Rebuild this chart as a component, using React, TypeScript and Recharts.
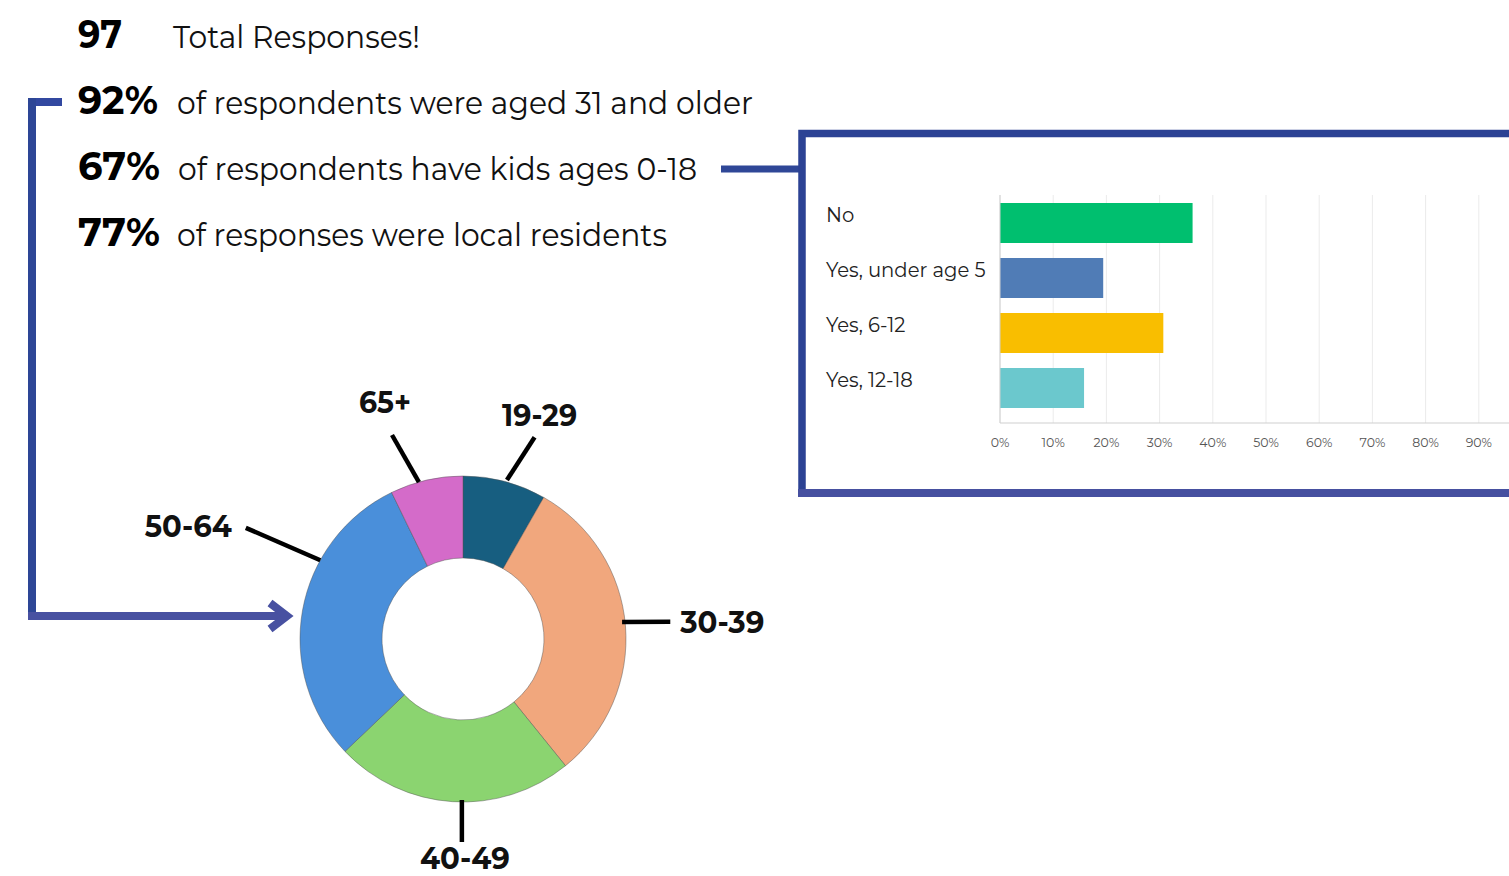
import React from 'react';
import { PieChart, Pie, Cell, BarChart, Bar, XAxis, YAxis, CartesianGrid } from 'recharts';

// age of respondents (counts out of 97)
const ageGroups = ['19-29', '30-39', '40-49', '50-64', '65+'];
const ageCounts = [8, 30, 23, 29, 7];
const ageColors = ['#175e80', '#f1a77d', '#8bd470', '#4a8fda', '#d46bc9'];

// "do you have kids" question, percent of responses
const kidAnswers = ['No', 'Yes, under age 5', 'Yes, 6-12', 'Yes, 12-18'];
const kidShares = [36.2, 19.4, 30.7, 15.8];
const kidColors = ['#00bf6f', '#507cb6', '#f9be00', '#6bc8cd'];
// 100% sits past the right edge of the picture, so only 0-90 get labels
const pctTicks = [0, 10, 20, 30, 40, 50, 60, 70, 80, 90];

const statValues = ['97', '92%', '67%', '77%'];
const statTexts = [
  'Total Responses!',
  'of respondents were aged 31 and older',
  'of respondents have kids ages 0-18',
  'of responses were local residents',
];

const FONT = "Montserrat, 'Open Sans', sans-serif";

const ageData = ageGroups.map((name, i) => ({ name, value: ageCounts[i] }));
const kidData = kidAnswers.map((answer, i) => ({ answer, share: kidShares[i] }));

// layout of the stat rows
const statRows = [
  { y: 48, valueW: 44, textX: 173, textW: 247 },
  { y: 114, valueW: 80, textX: 177, textW: 576 },
  { y: 180, valueW: 82, textX: 178, textW: 519 },
  { y: 246, valueW: 82, textX: 177, textW: 490 },
];

// leader line / label placement per slice (angles in clock degrees relative to the slice middle)
const labelCfg = [
  { d0: 0.6, d1: 4.7, r0: 165, r1: 214, dx: 5, dy: -11, anchor: 'middle', w: 75 },
  { d0: -1.5, d1: -0.1, r0: 160, r1: 208, dx: 10, dy: 11, anchor: 'start', w: 84 },
  { d0: -3.3, d1: -3.4, r0: 161, r1: 203, dx: 3, dy: 27, anchor: 'middle', w: 90 },
  { d0: 18.7, d1: 16.9, r0: 163, r1: 244, dx: -14, dy: 9, anchor: 'end', w: 87 },
  { d0: -2.7, d1: -6.2, r0: 163, r1: 216, dx: -7, dy: -22, anchor: 'middle', w: 52 },
];

function polar(cx: number, cy: number, r: number, clockDeg: number) {
  const a = (clockDeg * Math.PI) / 180;
  return { x: cx + r * Math.sin(a), y: cy - r * Math.cos(a) };
}

function renderAgeLabel(props: any) {
  const { cx, cy, midAngle, index } = props;
  const c = labelCfg[index];
  const clock = 90 - midAngle;
  const p0 = polar(cx, cy, c.r0, clock + c.d0);
  const p1 = polar(cx, cy, c.r1, clock + c.d1);
  return (
    <g key={'lbl' + index}>
      <line x1={p0.x} y1={p0.y} x2={p1.x} y2={p1.y} stroke="#000" strokeWidth={4.5} />
      <text
        x={p1.x + c.dx}
        y={p1.y + c.dy}
        textAnchor={c.anchor as any}
        fontFamily={FONT}
        fontWeight={700}
        fontSize={30}
        fill="#111"
        textLength={c.w}
        lengthAdjust="spacingAndGlyphs"
      >
        {ageGroups[index]}
      </text>
    </g>
  );
}

function KidTick(props: any) {
  const { y, payload } = props;
  return (
    <text x={20} y={y - 8} dominantBaseline="central" fontFamily={FONT} fontSize={19.6} fill="#222">
      {payload.value}
    </text>
  );
}

export default function App() {
  return (
    <div style={{ position: 'relative', width: 1509, height: 876, overflow: 'hidden', background: '#fff' }}>
      <style>{'body{margin:0}'}</style>
      <svg width={1509} height={876} style={{ position: 'absolute', left: 0, top: 0 }}>
        {statRows.map((r, i) => (
          <g key={i}>
            <text
              x={78}
              y={r.y}
              fontFamily={FONT}
              fontWeight={700}
              fontSize={40}
              fill="#000"
              textLength={r.valueW}
              lengthAdjust="spacingAndGlyphs"
            >
              {statValues[i]}
            </text>
            <text
              x={r.textX}
              y={r.y}
              fontFamily={FONT}
              fontSize={31}
              fill="#111"
              textLength={r.textW}
              lengthAdjust="spacingAndGlyphs"
            >
              {statTexts[i]}
            </text>
          </g>
        ))}
        {/* bracket from the age stat to the donut */}
        <line x1={28} y1={102} x2={62} y2={102} stroke="#3248a0" strokeWidth={8} />
        <line x1={32} y1={98} x2={32} y2={620} stroke="#2d4696" strokeWidth={8} />
        <line x1={28} y1={616} x2={284} y2={616} stroke="#4851a1" strokeWidth={8} />
        <polyline points="270,603 287,616 270,629" fill="none" stroke="#4851a1" strokeWidth={8} />
        {/* connector and box around the kids chart */}
        <line x1={721} y1={169} x2={800} y2={169} stroke="#2f4797" strokeWidth={7} />
        <path d="M1520 133.5 H802 V493" fill="none" stroke="#2c4294" strokeWidth={7.5} />
        <line x1={798} y1={493} x2={1520} y2={493} stroke="#4650a0" strokeWidth={8} />
      </svg>

      <div style={{ position: 'absolute', left: 0, top: 0 }}>
        <PieChart width={800} height={876} margin={{ top: 0, right: 0, bottom: 0, left: 0 }}>
          <Pie
            data={ageData}
            dataKey="value"
            nameKey="name"
            cx={463}
            cy={639}
            innerRadius={81}
            outerRadius={163}
            startAngle={90}
            endAngle={-270}
            stroke="rgba(80,80,80,0.45)"
            strokeWidth={1}
            label={renderAgeLabel}
            labelLine={false}
            isAnimationActive={false}
          >
            {ageData.map((d, i) => (
              <Cell key={d.name} fill={ageColors[i]} />
            ))}
          </Pie>
        </PieChart>
      </div>

      <div style={{ position: 'absolute', left: 806, top: 137 }}>
        <BarChart
          width={746}
          height={352}
          data={kidData}
          layout="vertical"
          margin={{ top: 58, right: 20, bottom: 36, left: 0 }}
          barSize={40}
        >
          <CartesianGrid horizontal={false} stroke="#ebebeb" />
          <XAxis
            type="number"
            domain={[0, 100]}
            ticks={pctTicks}
            tickFormatter={(v) => `${v}%`}
            tick={{ fill: '#555', fontSize: 12.5, fontFamily: FONT }}
            tickLine={false}
            tickMargin={9}
            axisLine={{ stroke: '#cfcfcf' }}
            height={30}
            interval={0}
          />
          <YAxis
            type="category"
            dataKey="answer"
            width={194}
            tick={<KidTick />}
            tickLine={false}
            axisLine={{ stroke: '#cfcfcf' }}
            padding={{ top: 0, bottom: 8 }}
          />
          <Bar dataKey="share" isAnimationActive={false}>
            {kidData.map((d, i) => (
              <Cell key={d.answer} fill={kidColors[i]} />
            ))}
          </Bar>
        </BarChart>
      </div>
    </div>
  );
}
